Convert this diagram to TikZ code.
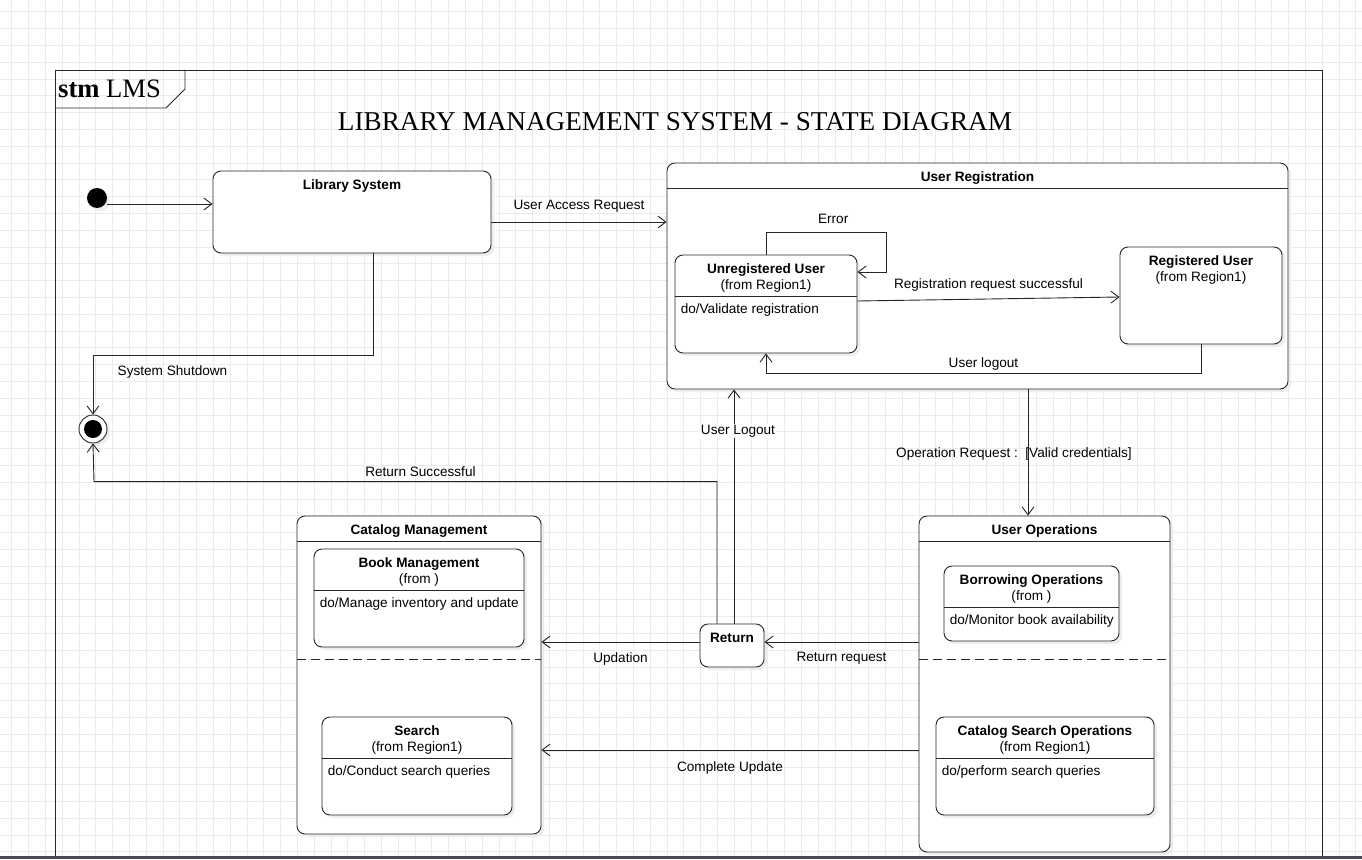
\documentclass[tikz,border=0pt]{standalone}
\usepackage{fontspec}
\setmainfont{Liberation Sans}
\newfontfamily\seriftitle{Liberation Serif}
\usetikzlibrary{arrows.meta, positioning, shadows}
\definecolor{barcol}{RGB}{72,76,80}
\tikzstyle{statebox} = [rectangle, rounded corners=8pt, draw=black!85, line width=0.9pt, fill=white, inner sep=0pt, drop shadow={shadow xshift=3pt, shadow yshift=-3pt, fill=black!7, opacity=1}]
\tikzstyle{txt} = [inner sep=0pt, font=\fontsize{13.6}{16}\selectfont, align=center]
\tikzstyle{boldtxt} = [txt, font=\fontsize{13.6}{16}\selectfont\bfseries]
\tikzstyle{dotxt} = [txt, anchor=west]
\tikzstyle{wire} = [line width=0.9pt, draw=black!85]
\tikzstyle{arrow} = [line width=0.9pt, draw=black!85, -{Straight Barb[length=8pt,width=12pt]}]
\tikzstyle{gridline} = [draw=black!8, line width=0.8pt]

\begin{document}
\begin{tikzpicture}[x=1pt, y=-1pt]
\useasboundingbox (0,0) rectangle (1362,859);
\fill[white] (0,0) rectangle (1362,859);

% background grid
\foreach \i in {0,...,80} \draw[gridline] ({11.7+16.8*\i},0) -- ({11.7+16.8*\i},859);
\foreach \i in {0,...,50} \draw[gridline] (0,{11.7+16.8*\i}) -- (1362,{11.7+16.8*\i});

% frame
\draw[wire] (55,856) -- (55,70) -- (1322,70) -- (1322,856);
\draw[wire] (55,108) -- (166,108) -- (185,89) -- (185,70);
\node (frame_name) [anchor=west, inner sep=0pt, font=\seriftitle\fontsize{26.6}{28}\selectfont] at (58,89) {\textbf{stm} LMS};
\node (diagram_title) [inner sep=0pt, font=\seriftitle\fontsize{27.2}{28}\selectfont] at (675,122) {LIBRARY MANAGEMENT SYSTEM - STATE DIAGRAM};

% states
\node (init) [circle, fill=black, minimum size=20pt, inner sep=0pt, drop shadow={shadow xshift=3pt, shadow yshift=-3pt, fill=black!7, opacity=1}] at (97,198) {};
\node (final) [circle, draw=black!85, line width=0.9pt, fill=white, minimum size=28pt, inner sep=0pt, drop shadow={shadow xshift=3pt, shadow yshift=-3pt, fill=black!7, opacity=1}] at (93,429) {};
\node (final_dot) [circle, fill=black, minimum size=18pt, inner sep=0pt] at (final) {};

\node (lib_system) [statebox, minimum width=278pt, minimum height=82pt] at (352,212) {};
\node (lib_system_name) [boldtxt, below=9pt of lib_system.north] {Library System};

\node (user_reg) [statebox, minimum width=621pt, minimum height=226pt] at (977.5,276) {};
\node (user_reg_name) [boldtxt, below=8.5pt of user_reg.north] {User Registration};
\draw[wire] ([yshift=-26pt]user_reg.north west) -- ([yshift=-26pt]user_reg.north east);

\node (unreg) [statebox, minimum width=182pt, minimum height=98pt] at (766,304) {};
\node (unreg_name) [txt, below=9pt of unreg.north] {\textbf{Unregistered User}\\(from Region1)};
\draw[wire] ([yshift=-42pt]unreg.north west) -- ([yshift=-42pt]unreg.north east);
\node (unreg_do) [dotxt] at ([xshift=6pt, yshift=-55pt]unreg.north west) {do/Validate registration};

\node (reg) [statebox, minimum width=162pt, minimum height=97pt] at (1201,295.5) {};
\node (reg_name) [txt, below=9pt of reg.north] {\textbf{Registered User}\\(from Region1)};

\node (cat_mgmt) [statebox, minimum width=244pt, minimum height=318pt] at (419,675) {};
\node (cat_mgmt_name) [boldtxt, below=8.5pt of cat_mgmt.north] {Catalog Management};
\draw[wire] ([yshift=-26pt]cat_mgmt.north west) -- ([yshift=-26pt]cat_mgmt.north east);
\draw[wire, dash pattern=on 9pt off 5pt] ([yshift=-144pt]cat_mgmt.north west) -- ([yshift=-144pt]cat_mgmt.north east);

\node (book_mgmt) [statebox, minimum width=210pt, minimum height=98pt] at (419,598) {};
\node (book_mgmt_name) [txt, below=9pt of book_mgmt.north] {\textbf{Book Management}\\(from )};
\draw[wire] ([yshift=-42pt]book_mgmt.north west) -- ([yshift=-42pt]book_mgmt.north east);
\node (book_mgmt_do) [dotxt] at ([xshift=6pt, yshift=-55pt]book_mgmt.north west) {do/Manage inventory and update};

\node (search) [statebox, minimum width=190pt, minimum height=98pt] at (417,766) {};
\node (search_name) [txt, below=9pt of search.north] {\textbf{Search}\\(from Region1)};
\draw[wire] ([yshift=-42pt]search.north west) -- ([yshift=-42pt]search.north east);
\node (search_do) [dotxt] at ([xshift=6pt, yshift=-55pt]search.north west) {do/Conduct search queries};

\node (return_state) [statebox, minimum width=64pt, minimum height=43pt] at (732,645.5) {};
\node (return_name) [boldtxt, below=9pt of return_state.north] {Return};

\node (user_ops) [statebox, minimum width=251pt, minimum height=336pt] at (1044.5,684) {};
\node (user_ops_name) [boldtxt, below=8.5pt of user_ops.north] {User Operations};
\draw[wire] ([yshift=-26pt]user_ops.north west) -- ([yshift=-26pt]user_ops.north east);
\draw[wire, dash pattern=on 9pt off 5pt] ([yshift=-144pt]user_ops.north west) -- ([yshift=-144pt]user_ops.north east);

\node (borrow) [statebox, minimum width=175pt, minimum height=75pt] at (1031.5,603.5) {};
\node (borrow_name) [txt, below=9pt of borrow.north] {\textbf{Borrowing Operations}\\(from )};
\draw[wire] ([yshift=-42pt]borrow.north west) -- ([yshift=-42pt]borrow.north east);
\node (borrow_do) [dotxt] at ([xshift=6pt, yshift=-55pt]borrow.north west) {do/Monitor book availability};

\node (cat_search) [statebox, minimum width=218pt, minimum height=98pt] at (1045,766) {};
\node (cat_search_name) [txt, below=9pt of cat_search.north] {\textbf{Catalog Search Operations}\\(from Region1)};
\draw[wire] ([yshift=-42pt]cat_search.north west) -- ([yshift=-42pt]cat_search.north east);
\node (cat_search_do) [dotxt] at ([xshift=6pt, yshift=-55pt]cat_search.north west) {do/perform search queries};

% transitions
\draw[arrow] ([yshift=-6pt]init.east) -- ([yshift=-6pt]init.east -| lib_system.west);
\draw[arrow] ([yshift=-10pt]lib_system.east) -- node[txt, above=9pt] {User Access Request} ([yshift=-10pt]lib_system.east -| user_reg.west);
\draw[arrow] (unreg.north) |- node[txt, pos=0.78, above=8pt] {Error} ++(120,-22) |- ([yshift=32pt]unreg.east);
\draw[arrow] ([yshift=3pt]unreg.east) -- node[txt, above=7pt] {Registration request successful} ([yshift=-1.5pt]reg.west);
\draw[arrow] (reg.south) -- ++(0,29) -| node[txt, pos=0.25, above=3pt] {User logout} (unreg.south);
\draw[arrow] ([xshift=21pt]lib_system.south) -- ++(0,102) -| node[txt, pos=0.358, below=10pt] {System Shutdown} (final.north);
\draw[arrow] ([xshift=-15pt]return_state.north) |- ++(-623,-142) node[txt, pos=0.738, above=4pt] {Return Successful} -- (final.south);
\draw[arrow] ([xshift=2pt]return_state.north) -- node[txt, pos=0.822, fill=white, inner sep=1pt, xshift=4pt] {User Logout} ([xshift=2pt]return_state.north |- user_reg.south);
\draw[arrow] ([xshift=50.5pt]user_reg.south) -- node[txt, xshift=-14pt, yshift=-1.5pt] {Operation Request :\ \ [Valid credentials]} ([xshift=50.5pt]user_reg.south |- user_ops.north);
\draw[arrow] ([yshift=42pt]user_ops.west) -- node[txt, below=10pt] {Return request} ([yshift=42pt]user_ops.west -| return_state.east);
\draw[arrow] ([yshift=3.5pt]return_state.west) -- node[txt, below=10pt] {Updation} ([yshift=3.5pt]return_state.west -| cat_mgmt.east);
\draw[arrow] ([yshift=-66pt]user_ops.west) -- node[txt, below=11pt] {Complete Update} ([yshift=-66pt]user_ops.west -| cat_mgmt.east);

% bottom edge
\fill[barcol] (0,856) rectangle (1362,859);
\end{tikzpicture}
\end{document}
